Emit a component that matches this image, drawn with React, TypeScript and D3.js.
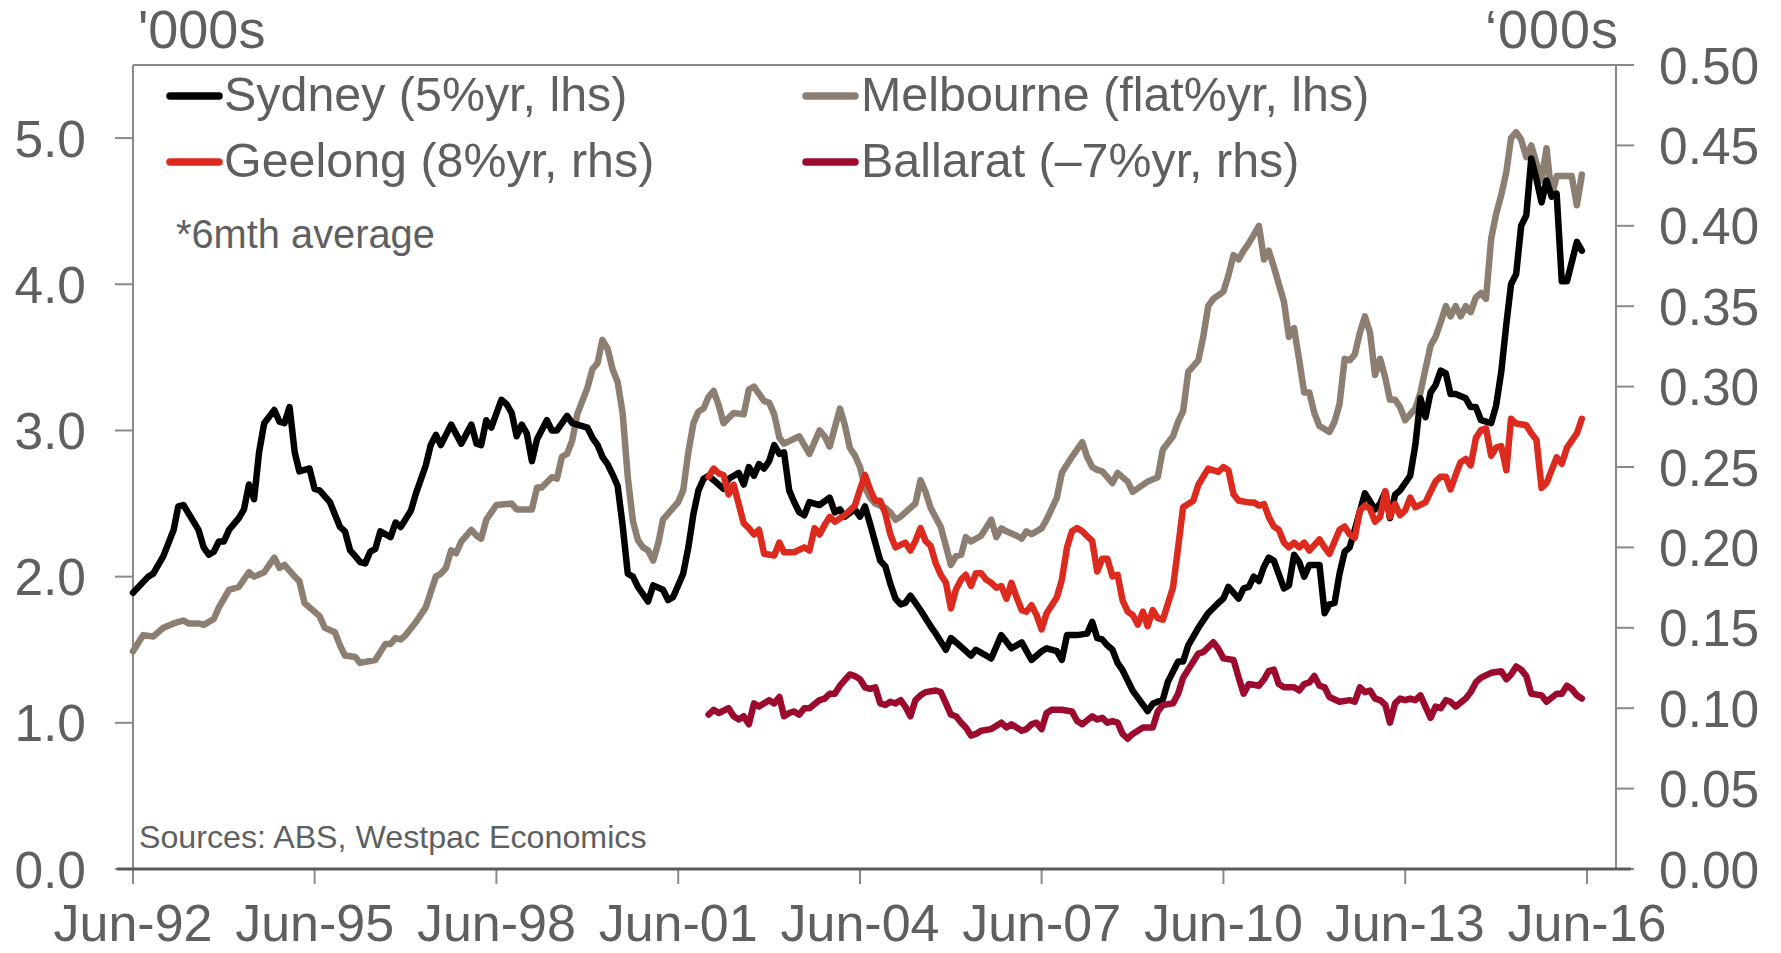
import React from 'react';
import * as d3 from 'd3';

// Monthly data; first number of each pair = months since Jun-1992
const START = '1992-06';
const X_TICKS = ['1992-06', '1995-06', '1998-06', '2001-06', '2004-06', '2007-06', '2010-06', '2013-06', '2016-06'];
const LEFT_TICKS = [0, 1, 2, 3, 4, 5];
const RIGHT_TICKS = [0, 0.05, 0.1, 0.15, 0.2, 0.25, 0.3, 0.35, 0.4, 0.45, 0.5];
const LEFT_UNIT = "'000s";
const RIGHT_UNIT = '\u2018000s';
const NOTE = '*6mth average';
const SOURCE = 'Sources: ABS, Westpac Economics';

const SYDNEY: [number, number][] = [
  [0,1.89],[3,2.00],[4,2.02],[6,2.14],[8,2.32],[9,2.48],[10,2.49],[13,2.32],[14,2.20],[15,2.15],[16,2.17],[17,2.24],[18,2.24],[19,2.32],[21,2.40],[22,2.46],[23,2.63],[24,2.53],[25,2.85],[26,3.05],[28,3.14],[29,3.06],[30,3.05],[31,3.16],[32,2.85],[33,2.72],[34,2.73],[35,2.74],[36,2.60],[37,2.59],[39,2.51],[41,2.34],[42,2.31],[43,2.18],[44,2.14],[45,2.10],[46,2.09],[47,2.17],[48,2.19],[49,2.31],[51,2.27],[52,2.37],[53,2.34],[55,2.45],[56,2.57],[58,2.76],[59,2.90],[60,2.97],[61,2.90],[63,3.04],[65,2.91],[67,3.04],[68,2.91],[69,2.90],[70,3.07],[71,3.02],[73,3.21],[74,3.18],[75,3.12],[76,2.96],[77,3.04],[78,2.98],[79,2.79],[80,2.94],[82,3.07],[83,3.00],[84,3.00],[86,3.10],[87,3.05],[89,3.03],[90,3.02],[91,2.95],[92,2.90],[93,2.82],[94,2.77],[95,2.70],[96,2.62],[97,2.35],[98,2.02],[99,2.00],[100,1.93],[102,1.83],[103,1.94],[105,1.91],[106,1.84],[107,1.86],[109,2.02],[110,2.20],[111,2.43],[112,2.59],[113,2.67],[114,2.69],[115,2.66],[117,2.60],[118,2.67],[120,2.71],[121,2.63],[122,2.75],[123,2.69],[124,2.77],[125,2.74],[126,2.79],[127,2.90],[128,2.84],[129,2.85],[130,2.59],[131,2.51],[132,2.44],[133,2.42],[134,2.51],[136,2.49],[138,2.54],[139,2.44],[140,2.46],[141,2.41],[143,2.46],[144,2.41],[145,2.48],[146,2.36],[148,2.11],[149,2.07],[150,1.95],[151,1.85],[152,1.81],[153,1.82],[154,1.87],[156,1.77],[158,1.66],[159,1.61],[161,1.50],[162,1.58],[164,1.52],[166,1.46],[167,1.50],[170,1.44],[172,1.60],[174,1.51],[176,1.55],[178,1.43],[180,1.49],[181,1.51],[183,1.49],[184,1.43],[185,1.60],[187,1.60],[189,1.61],[190,1.69],[191,1.58],[192,1.57],[193,1.53],[194,1.50],[195,1.41],[196,1.36],[198,1.22],[201,1.08],[202,1.13],[204,1.16],[205,1.28],[207,1.42],[208,1.42],[209,1.53],[211,1.65],[213,1.75],[215,1.82],[216,1.85],[217,1.93],[219,1.85],[220,1.92],[221,1.93],[222,2.00],[223,1.97],[224,2.07],[225,2.13],[226,2.11],[228,1.92],[229,1.94],[230,2.15],[231,2.10],[232,2.00],[233,2.08],[235,2.08],[236,1.75],[237,1.81],[238,1.82],[239,2.02],[240,2.17],[241,2.20],[242,2.32],[244,2.57],[246,2.46],[247,2.50],[248,2.58],[249,2.40],[250,2.56],[251,2.59],[253,2.69],[254,2.90],[255,3.22],[256,3.09],[257,3.26],[258,3.31],[259,3.41],[260,3.39],[261,3.25],[262,3.25],[264,3.22],[265,3.16],[266,3.16],[267,3.07],[269,3.05],[270,3.17],[271,3.40],[272,3.73],[273,4.00],[274,4.07],[275,4.40],[276,4.47],[277,4.86],[278,4.72],[279,4.56],[280,4.71],[281,4.60],[282,4.62],[283,4.02],[284,4.02],[285,4.15],[286,4.29],[287,4.23]
];

const MELBOURNE: [number, number][] = [
  [0,1.49],[2,1.60],[4,1.59],[6,1.65],[8,1.68],[10,1.70],[11,1.68],[13,1.68],[14,1.67],[16,1.71],[17,1.79],[19,1.91],[21,1.93],[23,2.03],[24,2.00],[26,2.03],[28,2.13],[29,2.06],[30,2.08],[32,2.00],[33,1.97],[34,1.82],[37,1.73],[38,1.65],[40,1.62],[41,1.53],[42,1.46],[44,1.45],[45,1.41],[48,1.43],[50,1.54],[51,1.54],[52,1.58],[53,1.57],[54,1.60],[56,1.69],[58,1.79],[60,2.00],[61,2.02],[62,2.06],[63,2.18],[64,2.16],[65,2.24],[67,2.32],[68,2.28],[69,2.26],[70,2.39],[72,2.49],[75,2.50],[76,2.46],[79,2.46],[80,2.61],[81,2.61],[83,2.68],[84,2.67],[85,2.82],[86,2.84],[87,2.93],[88,3.11],[90,3.29],[91,3.42],[92,3.46],[93,3.62],[94,3.56],[95,3.42],[96,3.33],[97,3.12],[98,2.68],[99,2.38],[100,2.25],[101,2.20],[102,2.18],[103,2.11],[104,2.23],[105,2.39],[107,2.47],[108,2.51],[109,2.59],[110,2.85],[111,3.05],[112,3.13],[113,3.15],[114,3.23],[115,3.27],[116,3.17],[117,3.05],[119,3.12],[121,3.11],[122,3.28],[123,3.30],[125,3.20],[126,3.19],[127,3.11],[128,2.95],[129,2.91],[132,2.96],[134,2.84],[136,3.00],[137,2.96],[138,2.89],[140,3.15],[141,3.04],[142,2.88],[143,2.83],[144,2.75],[145,2.61],[146,2.54],[147,2.50],[149,2.47],[150,2.44],[151,2.39],[152,2.41],[154,2.47],[155,2.50],[156,2.66],[157,2.58],[158,2.47],[160,2.34],[162,2.08],[163,2.14],[164,2.15],[165,2.27],[166,2.24],[168,2.28],[170,2.39],[171,2.27],[172,2.33],[173,2.31],[175,2.28],[176,2.26],[177,2.31],[178,2.29],[180,2.33],[181,2.39],[183,2.54],[184,2.71],[186,2.82],[188,2.92],[189,2.82],[190,2.75],[191,2.73],[192,2.72],[194,2.64],[195,2.71],[197,2.65],[198,2.58],[201,2.65],[203,2.68],[204,2.87],[206,2.96],[207,3.06],[208,3.13],[209,3.40],[211,3.48],[212,3.65],[213,3.85],[214,3.90],[216,3.95],[217,4.06],[218,4.20],[219,4.17],[220,4.23],[221,4.28],[223,4.40],[224,4.17],[225,4.23],[226,4.12],[228,3.88],[229,3.64],[230,3.70],[231,3.48],[232,3.26],[233,3.26],[234,3.12],[235,3.03],[237,2.99],[238,3.06],[239,3.18],[240,3.49],[241,3.48],[242,3.52],[243,3.67],[244,3.78],[245,3.67],[246,3.38],[247,3.49],[248,3.36],[249,3.21],[250,3.21],[251,3.16],[252,3.07],[253,3.11],[254,3.15],[255,3.26],[256,3.42],[257,3.58],[258,3.64],[259,3.74],[260,3.85],[261,3.78],[262,3.85],[263,3.78],[264,3.85],[265,3.81],[266,3.91],[267,3.94],[268,3.90],[269,4.31],[270,4.48],[271,4.61],[272,4.77],[273,5.00],[274,5.04],[275,4.99],[276,4.87],[277,4.95],[279,4.71],[280,4.93],[281,4.60],[282,4.74],[285,4.74],[286,4.54],[287,4.75]
];

const GEELONG: [number, number][] = [
  [114,0.244],[115,0.249],[116,0.246],[117,0.245],[118,0.233],[119,0.239],[121,0.215],[122,0.212],[123,0.208],[124,0.211],[125,0.196],[127,0.195],[128,0.203],[129,0.197],[131,0.197],[133,0.200],[134,0.198],[135,0.212],[136,0.208],[137,0.214],[138,0.219],[139,0.216],[141,0.220],[143,0.226],[144,0.236],[145,0.245],[146,0.236],[147,0.229],[148,0.229],[149,0.221],[150,0.208],[151,0.200],[153,0.203],[154,0.198],[155,0.204],[156,0.212],[157,0.204],[158,0.201],[159,0.190],[160,0.183],[161,0.178],[162,0.162],[163,0.174],[164,0.180],[165,0.183],[166,0.176],[167,0.184],[168,0.184],[169,0.180],[170,0.178],[171,0.175],[172,0.176],[173,0.168],[174,0.178],[175,0.169],[176,0.161],[177,0.160],[178,0.164],[179,0.158],[180,0.149],[181,0.159],[183,0.169],[184,0.180],[185,0.200],[186,0.210],[187,0.212],[188,0.210],[189,0.207],[190,0.204],[191,0.185],[192,0.193],[193,0.193],[194,0.182],[195,0.183],[196,0.167],[197,0.160],[198,0.158],[199,0.152],[200,0.160],[201,0.151],[202,0.161],[203,0.156],[204,0.155],[206,0.175],[207,0.200],[208,0.225],[210,0.229],[211,0.239],[213,0.249],[215,0.247],[216,0.250],[217,0.248],[218,0.233],[219,0.229],[221,0.228],[222,0.228],[223,0.226],[224,0.227],[225,0.219],[226,0.213],[227,0.211],[228,0.203],[229,0.200],[230,0.203],[231,0.200],[232,0.203],[233,0.198],[235,0.205],[236,0.200],[237,0.196],[239,0.211],[240,0.213],[241,0.208],[242,0.206],[243,0.223],[244,0.226],[245,0.224],[246,0.216],[247,0.219],[248,0.235],[249,0.219],[250,0.227],[251,0.220],[252,0.223],[253,0.231],[254,0.225],[256,0.228],[258,0.241],[259,0.244],[260,0.244],[261,0.236],[262,0.245],[263,0.253],[264,0.255],[265,0.251],[266,0.268],[267,0.273],[268,0.274],[269,0.257],[270,0.262],[271,0.263],[272,0.248],[273,0.280],[274,0.277],[276,0.276],[277,0.271],[278,0.267],[279,0.237],[280,0.240],[282,0.256],[283,0.252],[284,0.262],[286,0.271],[287,0.280]
];

const BALLARAT: [number, number][] = [
  [114,0.096],[115,0.099],[116,0.097],[118,0.100],[119,0.095],[120,0.093],[121,0.095],[122,0.090],[123,0.103],[124,0.101],[126,0.105],[127,0.103],[128,0.107],[129,0.095],[130,0.097],[131,0.098],[132,0.096],[133,0.100],[134,0.100],[136,0.105],[137,0.106],[138,0.109],[139,0.109],[140,0.114],[142,0.121],[143,0.120],[144,0.118],[145,0.113],[146,0.112],[147,0.113],[148,0.103],[149,0.102],[150,0.104],[151,0.103],[152,0.105],[153,0.101],[154,0.095],[155,0.105],[156,0.108],[157,0.110],[159,0.111],[160,0.110],[161,0.103],[162,0.096],[163,0.095],[164,0.091],[165,0.088],[166,0.083],[167,0.084],[168,0.086],[170,0.087],[172,0.091],[173,0.088],[174,0.090],[176,0.086],[177,0.087],[178,0.090],[179,0.091],[180,0.087],[181,0.097],[182,0.099],[184,0.099],[186,0.098],[187,0.092],[188,0.090],[190,0.095],[191,0.093],[192,0.094],[193,0.091],[194,0.092],[195,0.091],[196,0.084],[197,0.081],[198,0.084],[200,0.088],[202,0.088],[203,0.098],[204,0.102],[206,0.103],[207,0.109],[208,0.119],[209,0.124],[211,0.134],[212,0.135],[214,0.141],[215,0.137],[216,0.131],[218,0.130],[219,0.119],[220,0.109],[221,0.115],[223,0.114],[224,0.118],[225,0.123],[226,0.124],[227,0.115],[228,0.113],[230,0.113],[231,0.111],[232,0.115],[233,0.116],[234,0.120],[235,0.114],[236,0.113],[237,0.107],[239,0.104],[241,0.105],[242,0.104],[243,0.113],[244,0.110],[245,0.111],[246,0.106],[247,0.105],[248,0.102],[249,0.091],[250,0.103],[251,0.106],[252,0.105],[253,0.106],[254,0.105],[255,0.108],[256,0.101],[257,0.094],[258,0.101],[259,0.100],[260,0.105],[261,0.104],[262,0.101],[264,0.106],[265,0.110],[266,0.116],[267,0.119],[269,0.122],[271,0.123],[272,0.118],[273,0.121],[274,0.126],[275,0.124],[276,0.120],[277,0.109],[279,0.108],[280,0.104],[282,0.109],[283,0.109],[284,0.114],[285,0.112],[286,0.108],[287,0.106]
];

const SERIES_NAMES = ['Sydney (5%yr, lhs)', 'Melbourne (flat%yr, lhs)', 'Geelong (8%yr, rhs)', 'Ballarat (\u20137%yr, rhs)'];
const SERIES_COLORS = ['#000000', '#8c7e71', '#dd2a1e', '#9c0a2e'];

export default function App() {
  const W = 1781, H = 953;
  const L = 133, R = 1616, T = 65, B = 869;
  const FONT = '"Liberation Sans", Arial, Helvetica, sans-serif';
  const TXT = '#5e5f61';
  const AX = '#8a8a8a';

  const parse = d3.timeParse('%Y-%m');
  const start = parse(START) as Date;
  const toDate = (m: number) => d3.timeMonth.offset(start, m);
  const x = d3.scaleTime().domain([parse(X_TICKS[0]) as Date, parse(X_TICKS[X_TICKS.length - 1]) as Date]).range([133, 1587]);
  const yL = d3.scaleLinear().domain([0, 5.5]).range([B, T]);
  const yR = d3.scaleLinear().domain([0, 0.5]).range([B, T]);
  const fmtX = d3.timeFormat('%b-%y');

  const lineL = d3.line<[number, number]>().x(d => x(toDate(d[0]))).y(d => yL(d[1]));
  const lineR = d3.line<[number, number]>().x(d => x(toDate(d[0]))).y(d => yR(d[1]));

  const series = [
    { data: MELBOURNE, line: lineL, color: SERIES_COLORS[1] },
    { data: SYDNEY, line: lineL, color: SERIES_COLORS[0] },
    { data: GEELONG, line: lineR, color: SERIES_COLORS[2] },
    { data: BALLARAT, line: lineR, color: SERIES_COLORS[3] },
  ];

  const legend = [
    { name: SERIES_NAMES[0], color: SERIES_COLORS[0], sx: 167, tx: 224, by: 111 },
    { name: SERIES_NAMES[1], color: SERIES_COLORS[1], sx: 803, tx: 861, by: 111 },
    { name: SERIES_NAMES[2], color: SERIES_COLORS[2], sx: 167, tx: 224, by: 177 },
    { name: SERIES_NAMES[3], color: SERIES_COLORS[3], sx: 803, tx: 861, by: 177 },
  ];

  return (
    <svg width={W} height={H} style={{ position: 'absolute', left: 0, top: 0, background: '#fff' }} fontFamily={FONT}>
      <rect x={0} y={0} width={W} height={H} fill="#ffffff" />
      {/* frame */}
      <line x1={L} y1={T} x2={R} y2={T} stroke={AX} strokeWidth={2} />
      <line x1={L} y1={T} x2={L} y2={B} stroke={AX} strokeWidth={2} />
      <line x1={R} y1={T} x2={R} y2={B} stroke={AX} strokeWidth={2} />
      {/* left ticks */}
      {LEFT_TICKS.map(v => (
        <g key={'l' + v}>
          <line x1={115} x2={L} y1={yL(v)} y2={yL(v)} stroke={AX} strokeWidth={2} />
          <text x={86} y={yL(v)} dy="0.36em" textAnchor="end" fontSize={51.5} fill={TXT}>{v.toFixed(1)}</text>
        </g>
      ))}
      {/* right ticks */}
      {RIGHT_TICKS.map(v => (
        <g key={'r' + v}>
          <line x1={R} x2={1634} y1={yR(v)} y2={yR(v)} stroke={AX} strokeWidth={2} />
          <text x={1659} y={yR(v)} dy="0.36em" textAnchor="start" fontSize={51.5} fill={TXT}>{v.toFixed(2)}</text>
        </g>
      ))}
      {/* x ticks */}
      {X_TICKS.map(s => {
        const d = parse(s) as Date;
        return (
          <g key={s}>
            <line x1={x(d)} x2={x(d)} y1={B} y2={884} stroke={AX} strokeWidth={2} />
            <text x={x(d)} y={941} textAnchor="middle" fontSize={52} fill={TXT}>{fmtX(d)}</text>
          </g>
        );
      })}
      {/* bottom axis */}
      <line x1={117} x2={1631} y1={B} y2={B} stroke="#5a5a5a" strokeWidth={3} />
      {/* units */}
      <text x={138} y={48} fontSize={54} fill={TXT}>{LEFT_UNIT}</text>
      <text x={1619} y={48} fontSize={54} fill={TXT} textAnchor="end" letterSpacing={1}>{RIGHT_UNIT}</text>
      {/* series */}
      {series.map((s, i) => (
        <path key={i} d={s.line(s.data) || ''} fill="none" stroke={s.color} strokeWidth={6.5} strokeLinejoin="round" strokeLinecap="round" />
      ))}
      {/* legend */}
      {legend.map(l => (
        <g key={l.name}>
          <line x1={l.sx + 3} x2={l.sx + 52} y1={l.by - 15} y2={l.by - 15} stroke={l.color} strokeWidth={7.5} strokeLinecap="round" />
          <text x={l.tx} y={l.by} fontSize={48.4} fill={TXT}>{l.name}</text>
        </g>
      ))}
      <text x={176} y={248} fontSize={39.8} fill={TXT}>{NOTE}</text>
      <text x={139} y={848} fontSize={32.2} fill={TXT}>{SOURCE}</text>
    </svg>
  );
}
